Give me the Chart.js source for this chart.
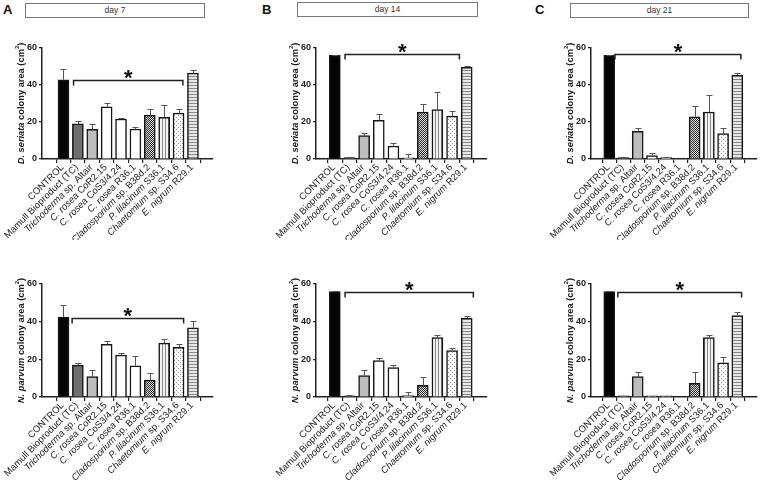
<!DOCTYPE html>
<html>
<head>
<meta charset="utf-8">
<script src="https://cdn.jsdelivr.net/npm/chart.js@4.4.0/dist/chart.umd.min.js"></script>
<style>
    body { margin: 0; width: 760px; height: 483px; background: #fff; position: relative; overflow: hidden; font-family: "Liberation Sans", Arial, sans-serif; }
    canvas { position: absolute; }
    .letter { position: absolute; font-weight: bold; font-size: 13px; color: #111; }
    .dayBox { position: absolute; border: 1px solid #777; height: 15px; line-height: 13px; font-size: 8.5px; text-align: center; color: #333; box-sizing: border-box; }
</style>
</head>
<body>
<div class="letter" style="left:3px;top:2px">A</div>
<div class="letter" style="left:262px;top:2px">B</div>
<div class="letter" style="left:535px;top:2px">C</div>
<div class="dayBox" style="left:25px;top:3px;width:180px">day 7</div>
<div class="dayBox" style="left:297px;top:2px;width:181px">day 14</div>
<div class="dayBox" style="left:570px;top:3px;width:179px">day 21</div>

<canvas id="chart__seriata-7"></canvas>
<canvas id="chart__seriata-14"></canvas>
<canvas id="chart__seriata-21"></canvas>
<canvas id="chart__parvum-7"></canvas>
<canvas id="chart__parvum-14"></canvas>
<canvas id="chart__parvum-21"></canvas>

<script>
// categories (italic genus/species part kept apart so it can be drawn slanted)
const italicParts = ['', '', 'Trichoderma', 'C. rosea', 'C. rosea', 'C. rosea', 'Cladosporium', 'P. lilacinum', 'Chaetomium', 'E. nigrum']
const plainParts = ['CONTROL', 'Mamull Bioproduct (TC)', ' sp. Altair', ' CoR2.15', ' CoS3/4.24', ' R36.1', ' sp. B38d.2', ' S36.1', ' sp. S34.6', ' R29.1']
const yTicks = [0, 20, 40, 60]

// D. seriata colony area (cm2), mean and error
const seriataDay7 = [42.8, 19, 16.1, 28.2, 21.6, 16.2, 23.7, 22.5, 24.8, 46.4]
const seriataDay7Err = [6, 1.8, 2.6, 2.3, 0.8, 1, 3.4, 6.6, 2.3, 1.9]
const seriataDay14 = [56, 0.8, 12.6, 20.9, 7, 0.6, 25.4, 26.7, 23.2, 49.5]
const seriataDay14Err = [0.3, 0.2, 1.6, 3.6, 1.8, 2, 4.3, 9.3, 2.5, 0.7]
const seriataDay21 = [56, 0.8, 15, 1.8, 0.8, 0, 22.8, 25.4, 13.7, 45.4]
const seriataDay21Err = [0.3, 0.2, 1.8, 1.2, 0.3, 0, 5.6, 9, 3.2, 1.2]

// N. parvum colony area (cm2), mean and error
const parvumDay7 = [42.4, 16.9, 10.8, 28, 22.2, 16.6, 9, 28.6, 26.4, 36.7]
const parvumDay7Err = [6.3, 1, 3.4, 1.6, 0.9, 5, 3.5, 2.2, 1.5, 3.5]
const parvumDay14 = [56, 0.6, 11.4, 19.4, 15.6, 0.7, 6.2, 31.6, 24.7, 41.9]
const parvumDay14Err = [0.3, 0.2, 2.7, 1.4, 1.5, 1.7, 4.5, 1.3, 1.3, 1.2]
const parvumDay21 = [56, 0.6, 10.8, 0.6, 0.6, 0, 7.3, 31.6, 18.2, 43.2]
const parvumDay21Err = [0.3, 0.1, 2.6, 0.1, 0.1, 0, 6.1, 1.3, 3.1, 1.7]

// significance brackets: level (cm2) and first/last category covered
const seriataBrackets = [[42.7, 0.7, 8.3], [56.5, 0.7, 8.5], [56.5, 0.4, 9.25]]
const parvumBrackets = [[41.7, 0.6, 8.35], [56, 0.7, 9.45], [56, 0.6, 9.3]]

const FONT = '"Liberation Sans", Arial, sans-serif'

// fill patterns for the hatched bars
function makePattern(kind) {
    const c = document.createElement('canvas')
    const ctx = c.getContext('2d')
    if (kind === 'check') {
        c.width = 2; c.height = 2
        ctx.fillStyle = '#d8d8d8'; ctx.fillRect(0, 0, 2, 2)
        ctx.fillStyle = '#303030'; ctx.fillRect(0, 0, 1, 1); ctx.fillRect(1, 1, 1, 1)
    } else if (kind === 'vertical') {
        c.width = 3; c.height = 3
        ctx.fillStyle = '#f2f2f2'; ctx.fillRect(0, 0, 3, 3)
        ctx.fillStyle = '#8a8a8a'; ctx.fillRect(0, 0, 1, 3)
    } else if (kind === 'dots') {
        c.width = 4; c.height = 4
        ctx.fillStyle = '#fafafa'; ctx.fillRect(0, 0, 4, 4)
        ctx.fillStyle = '#9a9a9a'; ctx.fillRect(0, 0, 1, 1); ctx.fillRect(2, 2, 1, 1)
    } else {
        c.width = 3; c.height = 3
        ctx.fillStyle = '#e6e6e6'; ctx.fillRect(0, 0, 3, 3)
        ctx.fillStyle = '#8a8a8a'; ctx.fillRect(0, 0, 3, 1)
    }
    return ctx.createPattern(c, 'repeat')
}

const barColors = ['#050505', '#6e6e6e', '#bdbdbd', '#ffffff', '#ffffff', '#ffffff',
    makePattern('check'), makePattern('vertical'), makePattern('dots'), makePattern('horizontal')]

// error bars, bracket with asterisk, rotated mixed-style labels and y title
const extrasPlugin = {
    id: 'extras',
    afterDraw(chart, args, opts) {
        const ctx = chart.ctx
        const xs = chart.scales.x
        const ys = chart.scales.y
        const area = chart.chartArea
        ctx.save()

        // error bars (upper only)
        ctx.strokeStyle = '#555'
        ctx.lineWidth = 1
        opts.values.forEach((v, i) => {
            const e = opts.errors[i]
            if (!e) return
            const x = Math.round(xs.getPixelForValue(i)) + 0.5
            const y0 = ys.getPixelForValue(v)
            const y1 = Math.round(ys.getPixelForValue(v + e)) + 0.5
            ctx.beginPath()
            ctx.moveTo(x, y0); ctx.lineTo(x, y1)
            ctx.moveTo(x - 3, y1); ctx.lineTo(x + 3, y1)
            ctx.stroke()
        })

        // bracket
        const [level, from, to] = opts.bracket
        const by = Math.round(ys.getPixelForValue(level)) + 0.5
        const bx1 = xs.getPixelForValue(from)
        const bx2 = xs.getPixelForValue(to)
        ctx.strokeStyle = '#222'
        ctx.lineWidth = 1.5
        ctx.beginPath()
        ctx.moveTo(bx1, by + 5); ctx.lineTo(bx1, by); ctx.lineTo(bx2, by); ctx.lineTo(bx2, by + 5)
        ctx.stroke()
        ctx.fillStyle = '#111'
        ctx.font = `bold 22px ${FONT}`
        ctx.textAlign = 'center'
        ctx.textBaseline = 'alphabetic'
        ctx.fillText('*', (bx1 + bx2) / 2, by + 4)

        // x labels, 45 degrees
        ctx.fillStyle = '#1a1a1a'
        ctx.textBaseline = 'middle'
        ctx.textAlign = 'left'
        const italicFont = `italic 9.5px ${FONT}`
        const plainFont = `9.5px ${FONT}`
        italicParts.forEach((it, i) => {
            ctx.font = italicFont
            const wi = it ? ctx.measureText(it).width : 0
            ctx.font = plainFont
            const wp = ctx.measureText(plainParts[i]).width
            const x = xs.getPixelForValue(i)
            ctx.save()
            ctx.translate(x - 1, area.bottom + 7)
            ctx.rotate(-Math.PI / 4)
            let cx = -(wi + wp)
            if (it) {
                ctx.font = italicFont
                ctx.fillText(it, cx, 0)
                cx += wi
            }
            ctx.font = plainFont
            ctx.fillText(plainParts[i], cx, 0)
            ctx.restore()
        })

        // y axis title
        const parts = [
            [`italic bold 9.3px ${FONT}`, opts.species, 0],
            [`bold 9.3px ${FONT}`, ' colony area (cm', 0],
            [`bold 6px ${FONT}`, '2', -3.5],
            [`bold 9.3px ${FONT}`, ')', 0]
        ]
        let total = 0
        parts.forEach(p => { ctx.font = p[0]; total += ctx.measureText(p[1]).width })
        ctx.save()
        ctx.translate(area.left - 21, (area.top + area.bottom) / 2)
        ctx.rotate(-Math.PI / 2)
        let tx = -total / 2
        parts.forEach(p => {
            ctx.font = p[0]
            ctx.fillText(p[1], tx, p[2])
            tx += ctx.measureText(p[1]).width
        })
        ctx.restore()

        ctx.restore()
    }
}

// one panel = one chart; geometry of each canvas so the plot boxes line up
function drawPanel(id, box, values, errors, bracket, species) {
    const canvas = document.getElementById(id)
    canvas.style.left = box.left + 'px'
    canvas.style.top = box.top + 'px'
    canvas.style.width = box.width + 'px'
    canvas.style.height = box.height + 'px'
    canvas.width = box.width
    canvas.height = box.height

    new Chart(canvas, {
        type: 'bar',
        data: {
            datasets: [{
                data: values.map((v, i) => ({ x: i, y: v })),
                backgroundColor: barColors,
                borderColor: '#151515',
                borderWidth: 1.5,
                barThickness: 11
            }]
        },
        options: {
            responsive: false,
            animation: false,
            events: [],
            layout: { padding: { left: box.padLeft, right: box.padRight, top: box.padTop, bottom: 0 } },
            plugins: {
                legend: { display: false },
                tooltip: { enabled: false },
                extras: { values: values, errors: errors, bracket: bracket, species: species }
            },
            scales: {
                x: {
                    type: 'linear',
                    min: box.xMin,
                    max: 9.8,
                    afterFit: scale => { scale.height = box.xHeight },
                    ticks: { stepSize: 1, includeBounds: false, display: false },
                    grid: { drawOnChartArea: false, drawTicks: true, tickLength: 4, color: '#222', lineWidth: 1.2 },
                    border: { display: true, color: '#222', width: 1.5 }
                },
                y: {
                    min: 0,
                    max: 60,
                    afterFit: scale => { scale.width = 32 },
                    afterBuildTicks: scale => { scale.ticks = yTicks.map(v => ({ value: v })) },
                    ticks: { color: '#222', font: { family: FONT, size: 9, weight: 'bold' }, padding: 2 },
                    grid: { drawOnChartArea: false, drawTicks: true, tickLength: 3, color: '#222', lineWidth: 1.2 },
                    border: { display: true, color: '#222', width: 1.5 }
                }
            }
        },
        plugins: [extrasPlugin]
    })
}

const columns = [
    { left: 0, width: 222, padLeft: 10, padRight: 9, xMin: -0.9 },
    { left: 270, width: 222, padLeft: 14, padRight: 5, xMin: -0.7 },
    { left: 545, width: 215, padLeft: 14, padRight: 3, xMin: -0.7 }
]
const topRow = { top: 25, height: 215, padTop: 23, xHeight: 81 }
const bottomRow = { top: 250, height: 233, padTop: 34, xHeight: 86 }

const seriataData = [[seriataDay7, seriataDay7Err], [seriataDay14, seriataDay14Err], [seriataDay21, seriataDay21Err]]
const parvumData = [[parvumDay7, parvumDay7Err], [parvumDay14, parvumDay14Err], [parvumDay21, parvumDay21Err]]
const days = [7, 14, 21]

columns.forEach((col, k) => {
    drawPanel('chart__seriata-' + days[k], { ...col, ...topRow }, seriataData[k][0], seriataData[k][1], seriataBrackets[k], 'D. seriata')
    drawPanel('chart__parvum-' + days[k], { ...col, ...bottomRow }, parvumData[k][0], parvumData[k][1], parvumBrackets[k], 'N. parvum')
})
</script>
</body>
</html>
